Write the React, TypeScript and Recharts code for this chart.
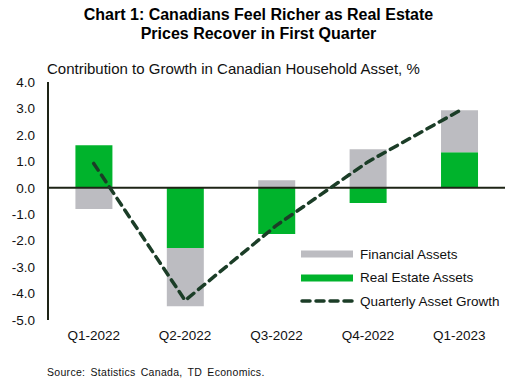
import { ComposedChart, Bar, Line, XAxis, YAxis, ReferenceLine } from "recharts";

const QUARTERS = ["Q1-2022", "Q2-2022", "Q3-2022", "Q4-2022", "Q1-2023"];
const REAL_ESTATE = [1.61, -2.28, -1.75, -0.58, 1.34];
const FINANCIAL = [-0.8, -2.2, 0.28, 1.46, 1.59];
const GROWTH = [0.92, -4.26, -1.42, 0.98, 2.91];
const Y_TICKS = [-5, -4, -3, -2, -1, 0, 1, 2, 3, 4];

const GREEN = "#00b32c";
const GREY = "#bcbcc1";
const LINE = "#1b3d27";
const AXIS = "#1e2416";
const FONT = "Arial, 'Liberation Sans', sans-serif";

const data = QUARTERS.map((q, i) => ({
  q,
  realEstate: REAL_ESTATE[i],
  financial: FINANCIAL[i],
  growth: GROWTH[i],
}));

const LEGEND = [
  { label: "Financial Assets", kind: "bar", color: GREY },
  { label: "Real Estate Assets", kind: "bar", color: GREEN },
  { label: "Quarterly Asset Growth", kind: "line", color: LINE },
];

export default function App() {
  return (
    <div style={{ position: "absolute", left: 0, top: 0, width: 517, height: 386, background: "#fff", fontFamily: FONT }}>
      <div
        style={{
          position: "absolute",
          left: 0,
          top: 5,
          width: 517,
          textAlign: "center",
          fontWeight: "bold",
          fontSize: 16,
          lineHeight: "19px",
          color: "#000",
        }}
      >
        Chart 1: Canadians Feel Richer as Real Estate
        <br />
        Prices Recover in First Quarter
      </div>
      <div style={{ position: "absolute", left: 47, top: 60, fontSize: 15, color: "#111" }}>
        Contribution to Growth in Canadian Household Asset, %
      </div>
      <ComposedChart
        width={517}
        height={386}
        data={data}
        stackOffset="sign"
        barCategoryGap="30%"
        margin={{ top: 82, right: 12, bottom: 36, left: 0 }}
      >
        <XAxis
          dataKey="q"
          height={30}
          axisLine={false}
          tickLine={false}
          tickSize={0}
          tickMargin={10}
          tick={{ fill: "#111", fontSize: 13.5, fontFamily: FONT }}
        />
        <YAxis
          width={48}
          domain={[-5, 4]}
          ticks={Y_TICKS}
          interval={0}
          tickFormatter={(v: number) => v.toFixed(1)}
          axisLine={{ stroke: AXIS, strokeWidth: 2 }}
          tickLine={false}
          tickSize={0}
          tickMargin={13}
          tick={{ fill: "#111", fontSize: 13.5, fontFamily: FONT }}
        />
        <Bar dataKey="realEstate" stackId="a" fill={GREEN} isAnimationActive={false} />
        <Bar dataKey="financial" stackId="a" fill={GREY} isAnimationActive={false} />
        <ReferenceLine y={0} stroke={AXIS} strokeWidth={2} />
        <Line
          dataKey="growth"
          type="linear"
          stroke={LINE}
          strokeWidth={3.5}
          strokeDasharray="8 6"
          strokeLinecap="round"
          dot={false}
          isAnimationActive={false}
        />
      </ComposedChart>
      {LEGEND.map((l, i) => (
        <div
          key={l.label}
          style={{ position: "absolute", left: 300, top: 245 + i * 23.5, height: 18, display: "flex", alignItems: "center" }}
        >
          <svg width={56} height={18}>
            {l.kind === "bar" ? (
              <rect x={1} y={5.5} width={52} height={7} fill={l.color} />
            ) : (
              <line x1={2} y1={9} x2={54} y2={9} stroke={l.color} strokeWidth={3.5} strokeDasharray="8 6" strokeLinecap="round" />
            )}
          </svg>
          <span style={{ fontSize: 13.5, color: "#111", marginLeft: 4 }}>{l.label}</span>
        </div>
      ))}
      <div style={{ position: "absolute", left: 47, top: 366, fontSize: 10.5, color: "#111", wordSpacing: 2, letterSpacing: 0.3 }}>
        Source: Statistics Canada, TD Economics.
      </div>
    </div>
  );
}
